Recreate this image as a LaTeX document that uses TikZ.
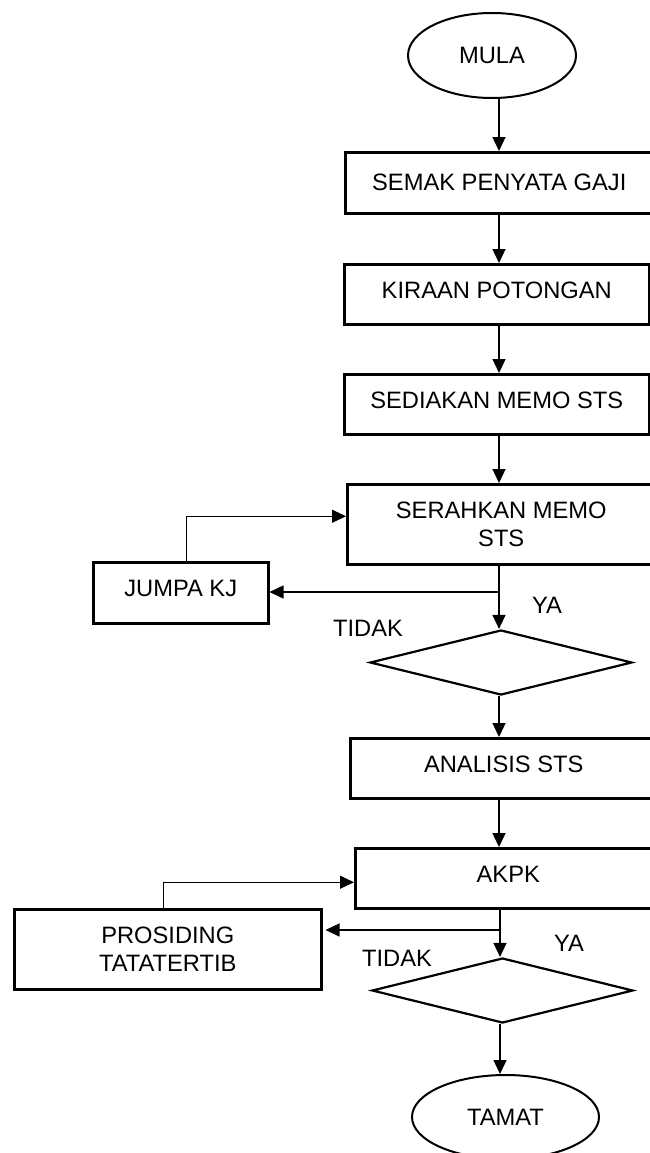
\documentclass[tikz,border=0pt]{standalone}
\usepackage{fontspec}
\setmainfont{Liberation Sans}
\usetikzlibrary{shapes.geometric,arrows.meta}
\begin{document}
\begin{tikzpicture}[x=1pt,y=-1pt,
  every node/.style={font=\fontsize{23.7}{28}\selectfont},
  boxnode/.style={draw,line width=2.5pt,rectangle,anchor=north west,inner sep=0pt,align=center},
  up/.style={text depth=8pt},
  termnode/.style={draw,line width=2pt,ellipse,inner sep=0pt},
  decnode/.style={draw,line width=2.2pt,diamond,inner sep=0pt},
  arr/.style={line width=1.4pt,-{Triangle[length=14pt,width=13pt]}},
  arrthin/.style={line width=1pt,-{Triangle[length=14pt,width=13pt]}},
  lbl/.style={inner sep=0pt}]
\useasboundingbox[fill=white] (0,0) rectangle (649,1153);

\coordinate (sx1) at (499,0);
\coordinate (sx2) at (500,0);

\node[termnode,minimum width=168pt,minimum height=85pt] (mula) at (492,55.5) {MULA};
\node[boxnode,minimum width=308pt,minimum height=61pt] (semak) at (344,151) {SEMAK PENYATA GAJI};
\node[boxnode,up,minimum width=305pt,minimum height=60pt] (kiraan) at (343,263) {KIRAAN POTONGAN};
\node[boxnode,up,minimum width=305pt,minimum height=60pt] (sediakan) at (343,373) {SEDIAKAN MEMO STS};
\node[boxnode,minimum width=308pt,minimum height=80pt] (serah) at (346,483) {SERAHKAN MEMO\\STS};
\node[boxnode,up,minimum width=175pt,minimum height=61pt] (jumpa) at (92,561) {JUMPA KJ};
\node[decnode,minimum width=262pt,minimum height=65pt] (d1) at (501,662.5) {};
\node[boxnode,up,minimum width=307pt,minimum height=60pt] (analisis) at (349,737) {ANALISIS STS};
\node[boxnode,up,minimum width=306pt,minimum height=60pt] (akpk) at (354,847) {AKPK};
\node[boxnode,minimum width=307pt,minimum height=80pt] (pros) at (13,908) {PROSIDING\\TATATERTIB};
\node[decnode,minimum width=261pt,minimum height=65pt] (d2) at (502.5,990.5) {};
\node[termnode,minimum width=187pt,minimum height=84pt] (tamat) at (505.5,1117) {TAMAT};

\node[lbl] (ya1) at (547,605) {YA};
\node[lbl] (tidak1) at (368,628) {TIDAK};
\node[lbl] (ya2) at (569,943) {YA};
\node[lbl] (tidak2) at (397,958) {TIDAK};

\draw[arr] (mula.south -| sx1) -- (semak.north -| sx1);
\draw[arr] (semak.south -| sx1) -- (kiraan.north -| sx1);
\draw[arr] (kiraan.south -| sx1) -- (sediakan.north -| sx1);
\draw[arr] (sediakan.south -| sx1) -- (serah.north -| sx1);
\draw[arr] (serah.south -| sx1) -- (d1.north -| sx1);
\coordinate (b1) at (499,592);
\draw[arr] (b1) -- (jumpa.east |- b1);
\draw[arrthin] ([xshift=5.5pt]jumpa.north) |- ([yshift=8pt]serah.west);
\draw[arr] (d1.south -| sx1) -- (analisis.north -| sx1);
\draw[arr] (analisis.south -| sx1) -- (akpk.north -| sx1);
\draw[arr] (akpk.south -| sx2) -- (d2.north -| sx2);
\coordinate (b2) at (500,930);
\draw[arr] (b2) -- ([xshift=3pt]pros.east |- b2);
\draw[arrthin] ([xshift=-4.5pt]pros.north) |- ([yshift=-4pt]akpk.west);
\draw[arr] (d2.south -| sx2) -- (tamat.north -| sx2);
\end{tikzpicture}
\end{document}
